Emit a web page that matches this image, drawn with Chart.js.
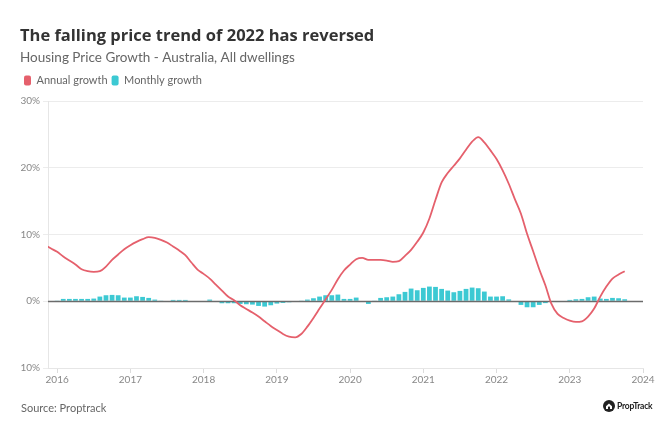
<!DOCTYPE html>
<html>
<head>
<meta charset="utf-8">
<script src="https://cdn.jsdelivr.net/npm/chart.js@4.4.1/dist/chart.umd.min.js"></script>
<style>
  html, body { margin: 0; padding: 0; background: #fff; }
  #wrap { position: relative; width: 666px; height: 433px; overflow: hidden; }
  #chart { position: absolute; left: 0; top: 0; }
  .src { position: absolute; left: 21px; top: 401px; font: 11px Lato, sans-serif; color: #666; }
  .logo { position: absolute; left: 603px; top: 400px; display: flex; align-items: center; font: bold 8.5px Lato, sans-serif; color: #222; letter-spacing: -0.2px; }
  .logo svg { margin-right: 2px; }
</style>
</head>
<body>
<div id="wrap">
  <canvas id="chart" width="666" height="433"></canvas>
  <div class="src">Source: Proptrack</div>
  <div class="logo"><svg width="12" height="12" viewBox="0 0 12 12"><circle cx="6" cy="6" r="6" fill="#222"/><path d="M3 6.2 L6 3.4 L9 6.2 L9 9 L3 9 Z" fill="#fff"/><rect x="5" y="6.6" width="2" height="2.4" fill="#222"/></svg>PropTrack</div>
</div>
<script>
// ---- data ----
const months = [
  '2015-11','2015-12',
  '2016-01','2016-02','2016-03','2016-04','2016-05','2016-06','2016-07','2016-08','2016-09','2016-10','2016-11','2016-12',
  '2017-01','2017-02','2017-03','2017-04','2017-05','2017-06','2017-07','2017-08','2017-09','2017-10','2017-11','2017-12',
  '2018-01','2018-02','2018-03','2018-04','2018-05','2018-06','2018-07','2018-08','2018-09','2018-10','2018-11','2018-12',
  '2019-01','2019-02','2019-03','2019-04','2019-05','2019-06','2019-07','2019-08','2019-09','2019-10','2019-11','2019-12',
  '2020-01','2020-02','2020-03','2020-04','2020-05','2020-06','2020-07','2020-08','2020-09','2020-10','2020-11','2020-12',
  '2021-01','2021-02','2021-03','2021-04','2021-05','2021-06','2021-07','2021-08','2021-09','2021-10','2021-11','2021-12',
  '2022-01','2022-02','2022-03','2022-04','2022-05','2022-06','2022-07','2022-08','2022-09','2022-10','2022-11','2022-12',
  '2023-01','2023-02','2023-03','2023-04','2023-05','2023-06','2023-07','2023-08','2023-09','2023-10'
];
const annualGrowth = [
  8.4, 7.9,
  7.4, 6.7, 6.1, 5.5, 4.8, 4.5, 4.4, 4.5, 5.2, 6.2, 7.0, 7.8,
  8.4, 8.9, 9.3, 9.6, 9.5, 9.2, 8.8, 8.2, 7.6, 6.9, 5.8, 4.75,
  4.1, 3.4, 2.5, 1.6, 0.7, 0.15, -0.6, -1.15, -1.7, -2.3, -3.0, -3.7,
  -4.3, -4.9, -5.3, -5.4, -4.9, -3.8, -2.5, -1.1, 0.3, 1.7, 3.3, 4.6,
  5.5, 6.3, 6.5, 6.2, 6.2, 6.2, 6.1, 5.9, 6.0, 6.8, 7.7, 8.9,
  10.3, 12.4, 15.2, 17.8, 19.2, 20.3, 21.4, 22.7, 23.9, 24.6, 23.8, 22.6,
  21.3, 19.6, 17.6, 15.3, 13.1, 10.1, 7.5, 4.8, 2.4, -0.4, -1.9, -2.5,
  -2.9, -3.1, -3.0, -2.3, -1.1, 0.7, 2.2, 3.4, 4.0, 4.5
];
const monthlyGrowth = [
  null, null,
  0.05, 0.35, 0.35, 0.35, 0.35, 0.35, 0.4, 0.7, 0.9, 0.95, 0.9, 0.55,
  0.55, 0.75, 0.65, 0.5, 0.25, 0.1, 0.0, 0.2, 0.2, 0.2, 0.0, -0.1,
  0.0, 0.25, 0.0, -0.3, -0.3, -0.3, -0.4, -0.45, -0.5, -0.7, -0.8, -0.6,
  -0.35, -0.25, -0.15, -0.05, 0.05, 0.25, 0.45, 0.7, 0.9, 0.9, 1.0, 0.35,
  0.35, 0.55, 0.0, -0.4, 0.05, 0.5, 0.6, 0.7, 1.05, 1.4, 1.9, 1.65,
  2.0, 2.2, 2.15, 1.85, 1.6, 1.35, 1.55, 1.85, 2.05, 1.95, 1.45, 0.7,
  0.7, 0.75, 0.28, 0.0, -0.55, -0.9, -0.9, -0.55, -0.28, 0.0, -0.12, 0.0,
  0.2, 0.3, 0.35, 0.6, 0.7, 0.4, 0.35, 0.5, 0.45, 0.3
];
const yearTicks = [2016, 2017, 2018, 2019, 2020, 2021, 2022, 2023, 2024];
const percentTicks = [-10, 0, 10, 20, 30];

const RED = '#e5606c';
const CYAN = '#3cc9d3';

const toX = s => { const [y, m] = s.split('-').map(Number); return y + (m - 1) / 12; };
const lineData = months.map((m, i) => ({ x: toX(m), y: annualGrowth[i] }));
const barData = months.map((m, i) => ({ x: toX(m), y: monthlyGrowth[i] }));

Chart.defaults.font.family = 'Lato, sans-serif';

const zeroLine = {
  id: 'zeroLine',
  beforeUpdate(chart) {
    const lg = chart.legend;
    if (lg && !lg._extraGap) {
      const f = lg.fit;
      lg.fit = function () { f.call(this); this.height += 5; };
      lg._extraGap = true;
    }
  },
  afterDatasetDraw(chart, args) {
    if (args.index !== 1) return;
    const { ctx, chartArea, scales } = chart;
    const y = Math.round(scales.y.getPixelForValue(0)) + 0.5;
    ctx.save();
    ctx.strokeStyle = '#6b6b6b';
    ctx.lineWidth = 1.3;
    ctx.beginPath();
    ctx.moveTo(chartArea.left, y);
    ctx.lineTo(chartArea.right, y);
    ctx.stroke();
    ctx.restore();
  }
};

new Chart(document.getElementById('chart'), {
  type: 'bar',
  data: {
    datasets: [
      {
        type: 'line', label: 'Annual growth', data: lineData,
        borderColor: RED, backgroundColor: RED, borderWidth: 1.8,
        pointRadius: 0, cubicInterpolationMode: 'monotone', order: 0
      },
      {
        type: 'bar', label: 'Monthly growth', data: barData,
        backgroundColor: CYAN, borderWidth: 0,
        barPercentage: 0.78, categoryPercentage: 1, order: 1
      }
    ]
  },
  options: {
    responsive: false,
    animation: false,
    layout: { padding: { left: 20, right: 23, top: 0, bottom: 46 } },
    plugins: {
      title: {
        display: true, align: 'start',
        text: 'The falling price trend of 2022 has reversed',
        color: '#333', font: { family: '"Open Sans", sans-serif', size: 16.5, weight: 'bold' },
        padding: { top: 26, bottom: 4 }
      },
      subtitle: {
        display: true, align: 'start',
        text: 'Housing Price Growth - Australia, All dwellings',
        color: '#666', font: { size: 13.5, weight: 'normal' },
        padding: { top: 0, bottom: 5 }
      },
      legend: {
        align: 'start',
        labels: {
          boxWidth: 7, boxHeight: 10, useBorderRadius: true, borderRadius: 2,
          padding: 4, color: '#666', font: { size: 11 },
          generateLabels(chart) {
            const items = Chart.defaults.plugins.legend.labels.generateLabels(chart);
            items.forEach(it => { it.lineWidth = 0; it.strokeStyle = 'rgba(0,0,0,0)'; });
            return items;
          }
        }
      },
      tooltip: { enabled: false }
    },
    scales: {
      x: {
        type: 'linear', min: 2015.875, max: 2024, offset: false,
        grid: { display: true, drawOnChartArea: false, drawTicks: true, tickLength: 5, color: '#dcdcdc', offset: false },
        border: { display: true, color: '#e6e6e6' },
        afterBuildTicks: s => { s.ticks = yearTicks.map(v => ({ value: v })); },
        ticks: { color: '#888', font: { size: 10 }, padding: 1, maxRotation: 0, autoSkip: false, callback: v => String(v) }
      },
      y: {
        min: -10, max: 30,
        afterBuildTicks: s => { s.ticks = percentTicks.map(v => ({ value: v })); },
        grid: { color: '#ececec', tickLength: 5 },
        border: { display: true, color: '#e6e6e6' },
        ticks: { color: '#888', font: { size: 10 }, padding: 3, callback: v => v + '%' },
        afterFit: s => { s.width = 28; }
      }
    }
  },
  plugins: [zeroLine]
});
</script>
</body>
</html>
